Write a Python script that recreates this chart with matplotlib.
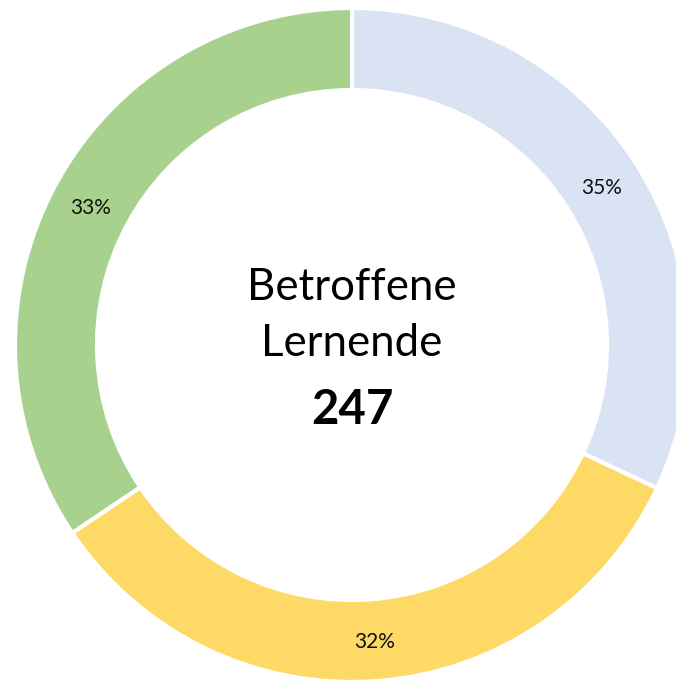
import matplotlib.pyplot as plt
import numpy as np

# slices clockwise from the top: blue, yellow, green
groups = ["A", "B", "C"]
counts = [79, 83, 85]
labels = ["35%", "32%", "33%"]
colors = ["#DAE3F3", "#FFD966", "#A9D18E"]
title_lines = ["Betroffene", "Lernende"]
total = "247"

fig = plt.figure(figsize=(6.76, 6.80), dpi=100)
ax = fig.add_axes([0, 0, 1, 1])

cx, cy = 352, 335
R = 337
ring = 82

wedges, _ = ax.pie(counts, colors=colors, startangle=90, counterclock=False,
                   radius=R, center=(cx, cy), frame=True,
                   wedgeprops=dict(width=ring, edgecolor="white", linewidth=3))
ax.set_xlim(0, 676)
ax.set_ylim(0, 680)
ax.axis("off")

mid_r = R - ring / 2
for w, lab in zip(wedges, labels):
    ang = np.deg2rad((w.theta1 + w.theta2) / 2)
    ax.text(cx + mid_r * np.cos(ang), cy + mid_r * np.sin(ang) - 2, lab,
            ha="center", va="center", fontsize=15, family="Lato", color="#111111")

ax.text(cx, cy + 58, title_lines[0], ha="center", va="center", fontsize=31.5,
        family="Lato", color="black")
ax.text(cx, cy + 1, title_lines[1], ha="center", va="center", fontsize=31.5,
        family="Lato", color="black")
ax.text(cx, cy - 65, total, ha="center", va="center", fontsize=34,
        family="Lato", fontweight="bold", color="black")

fig.savefig("out.png", dpi=100)
